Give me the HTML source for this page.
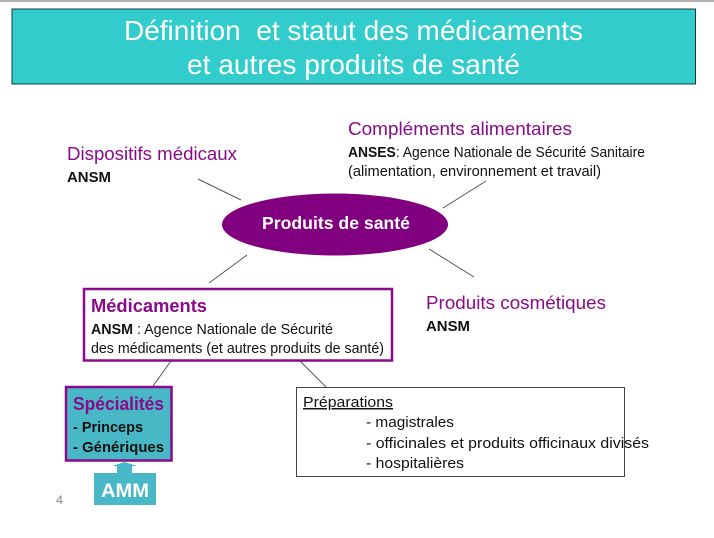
<!DOCTYPE html>
<html lang="fr">
<head>
<meta charset="utf-8">
<title>Définition et statut des médicaments</title>
<style>
html,body{margin:0;padding:0;background:#fff;width:714px;height:538px;overflow:hidden}
svg{display:block}
text{font-family:"Liberation Sans",sans-serif}
.p{fill:#8b0a8b}
.k{fill:#111}
.b{font-weight:bold}
</style>
</head>
<body>
<svg width="714" height="538" viewBox="0 0 714 538" xmlns="http://www.w3.org/2000/svg">
<rect x="0" y="0" width="714" height="2" fill="#b0b0b0"/>
<rect x="12" y="9" width="683.5" height="75" fill="#33cccc" stroke="#123c3c" stroke-width="1"/>
<text x="124" y="40" font-size="28" fill="#fff" textLength="459" lengthAdjust="spacingAndGlyphs" xml:space="preserve">Définition  et statut des médicaments</text>
<text x="187" y="74" font-size="28" fill="#fff" textLength="333" lengthAdjust="spacingAndGlyphs">et autres produits de santé</text>

<g stroke="#555" stroke-width="1" fill="none">
<line x1="198" y1="179" x2="241" y2="200"/>
<line x1="443" y1="208" x2="486" y2="181"/>
<line x1="247" y1="255" x2="209" y2="283"/>
<line x1="429" y1="249" x2="474" y2="277"/>
<line x1="171" y1="361" x2="153" y2="386"/>
<line x1="300" y1="361" x2="326" y2="387"/>
</g>

<text class="p" x="67" y="160" font-size="18.500" textLength="170" lengthAdjust="spacingAndGlyphs">Dispositifs médicaux</text>
<text class="k b" x="67" y="182" font-size="15" textLength="44" lengthAdjust="spacingAndGlyphs">ANSM</text>

<text class="p" x="348" y="135" font-size="18.500" textLength="224" lengthAdjust="spacingAndGlyphs">Compléments alimentaires</text>
<text class="k" x="348" y="157" font-size="14.500" textLength="297" lengthAdjust="spacingAndGlyphs"><tspan class="b">ANSES</tspan>: Agence Nationale de Sécurité Sanitaire</text>
<text class="k" x="348" y="176" font-size="14.500" textLength="253" lengthAdjust="spacingAndGlyphs">(alimentation, environnement et travail)</text>

<ellipse cx="335" cy="224.500" rx="113" ry="31" fill="#800080"/>
<text class="b" x="262" y="229" font-size="17.500" fill="#fff" textLength="148" lengthAdjust="spacingAndGlyphs">Produits de santé</text>

<text class="p" x="426" y="309" font-size="18.500" textLength="180" lengthAdjust="spacingAndGlyphs">Produits cosmétiques</text>
<text class="k b" x="426" y="331" font-size="15" textLength="44" lengthAdjust="spacingAndGlyphs">ANSM</text>

<rect x="84" y="289" width="308" height="71.500" fill="#fff" stroke="#8b0a8b" stroke-width="2.500"/>
<text class="p b" x="91" y="312" font-size="18.500" textLength="116" lengthAdjust="spacingAndGlyphs">Médicaments</text>
<text class="k" x="91" y="334" font-size="14.500" textLength="242" lengthAdjust="spacingAndGlyphs"><tspan class="b">ANSM</tspan> : Agence Nationale de Sécurité</text>
<text class="k" x="91" y="353" font-size="14.500" textLength="293" lengthAdjust="spacingAndGlyphs">des médicaments (et autres produits de santé)</text>

<rect x="66" y="387" width="105.500" height="73.500" fill="#48b8c6" stroke="#8b0a8b" stroke-width="2.500"/>
<text class="p b" x="73" y="410" font-size="18.500" textLength="91" lengthAdjust="spacingAndGlyphs">Spécialités</text>
<text class="k b" x="73" y="432" font-size="15" textLength="70" lengthAdjust="spacingAndGlyphs">- Princeps</text>
<text class="k b" x="73" y="452" font-size="15" textLength="91" lengthAdjust="spacingAndGlyphs">- Génériques</text>

<polygon points="124.500,462 137,466 132,466 132,474 117,474 117,466 112,466" fill="#48b8c6"/>
<rect x="94" y="473" width="62" height="32" fill="#48b8c6"/>
<text class="b" x="101" y="497" font-size="19" fill="#fff" textLength="48" lengthAdjust="spacingAndGlyphs">AMM</text>
<text x="56" y="504" font-size="11.500" fill="#888" textLength="7" lengthAdjust="spacingAndGlyphs">4</text>

<rect x="296.500" y="387.500" width="328" height="89" fill="none" stroke="#444" stroke-width="1"/>
<text class="k" x="303" y="407" font-size="15" textLength="90" lengthAdjust="spacingAndGlyphs" text-decoration="underline">Préparations</text>
<text class="k" x="366" y="427" font-size="15" textLength="88" lengthAdjust="spacingAndGlyphs">- magistrales</text>
<text class="k" x="366" y="448" font-size="15" textLength="283" lengthAdjust="spacingAndGlyphs">- officinales et produits officinaux divisés</text>
<text class="k" x="366" y="468" font-size="15" textLength="98" lengthAdjust="spacingAndGlyphs">- hospitalières</text>
</svg>
</body>
</html>
